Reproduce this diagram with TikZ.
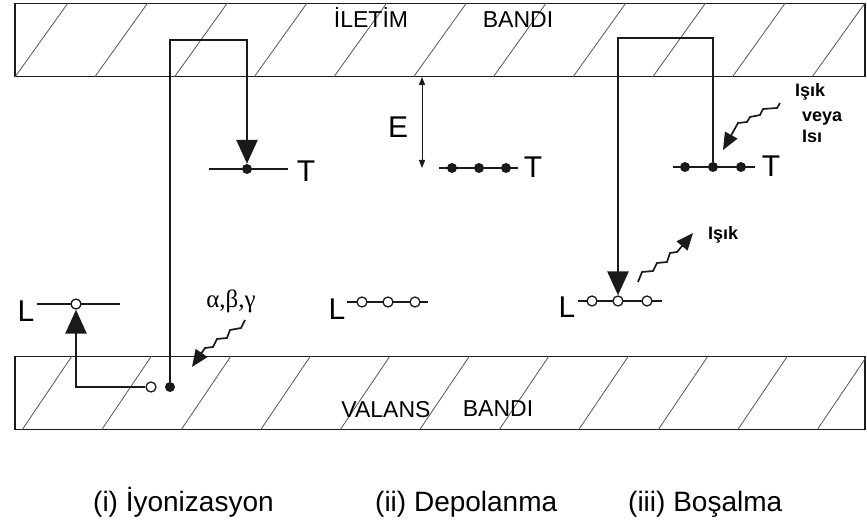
\documentclass[tikz,border=0pt]{standalone}
\usepackage{fontspec}
\setmainfont{Liberation Sans}
\newfontfamily\greekfont{Liberation Serif}
\usetikzlibrary{arrows.meta}
\definecolor{tinta}{HTML}{1A1A1A}
\definecolor{rayado}{HTML}{555555}

\tikzset{
  band/.style={draw=tinta,line width=1.5pt,minimum width=850pt,minimum height=73pt,inner sep=0pt},
  hatch/.style={rayado,line width=0.8pt},
  lvl/.style={tinta,line width=1.8pt},
  full/.style={circle,fill=tinta,inner sep=0pt,minimum size=10pt},
  empty/.style={circle,draw=tinta,fill=white,line width=1.3pt,inner sep=0pt,minimum size=10pt},
  track/.style={tinta,line width=2.6pt,-{Triangle[length=24pt,width=21pt]}},
  wave/.style={tinta,line width=1.7pt,-{Triangle[length=17pt,width=14pt]}},
  lbl/.style={font=\fontsize{30}{32}\selectfont,inner sep=0pt,anchor=base},
  bandtxt/.style={font=\fontsize{23}{26}\selectfont,inner sep=0pt,anchor=base},
  caption/.style={font=\fontsize{28}{30}\selectfont,inner sep=0pt,anchor=base west},
  note/.style={font=\bfseries\fontsize{18}{20}\selectfont,inner sep=0pt,anchor=base west}
}

\begin{document}
\begin{tikzpicture}[x=1pt,y=-1pt]
  \useasboundingbox (0,0) rectangle (867,526);

  \node[band] (cband) at (440,40) {};
  \node[band] (vband) at (440,393) {};
  \begin{scope}
    \clip (cband.south west) rectangle (cband.north east);
    \foreach \i in {0,...,10}
      \draw[hatch] (15+79.7*\i,77) -- ++(53,-74);
  \end{scope}
  \begin{scope}
    \clip (vband.south west) rectangle (vband.north east);
    \foreach \i in {0,...,10}
      \draw[hatch] (22+79.5*\i,430) -- ++(50,-74);
  \end{scope}
  \node[bandtxt] (iletim) at (371,28) {İLETİM};
  \node[bandtxt] (bandic) at (518,28) {BANDI};
  \node[bandtxt] (valans) at (386,417) {VALANS};
  \node[bandtxt] (bandiv) at (498,416) {BANDI};

  % (i)
  \draw[lvl] (209,169) -- (288,169);
  \draw[lvl] (37,304) -- (120,304);
  \node[full] (t1) at (247,169) {};
  \node[empty] (l1) at (76,304) {};
  \node[empty] (v0) at (151,387) {};
  \node[full] (vh) at (170,387) {};
  \coordinate (ltop) at (247,40);
  \draw[track] (vh) |- (ltop) -- (t1);
  \draw[track] (v0) -| (l1);
  \node[lbl] (t1lbl) at (306,182) {T};
  \node[lbl] (l1lbl) at (26,322) {L};
  \node[font=\greekfont\fontsize{25}{28}\selectfont,inner sep=0pt,anchor=base] (abg) at (231,308) {α,β,γ};
  \coordinate (w1s) at (245,320);
  \coordinate (w1e) at (192,367);
  \draw[wave] (w1s) -- ++(-4,8) -- ++(-11,2) -- ++(-3,8) -- ++(-10,1) -- ++(-4,8) -- ++(-8,1) -- (w1e);

  % (ii)
  \coordinate (etop) at (422,77);
  \coordinate (ebot) at (422,168);
  \draw[tinta,line width=1pt,{Triangle[length=8pt,width=6pt]}-{Triangle[length=8pt,width=6pt]}] (etop) -- (ebot);
  \node[lbl] (elbl) at (398,138) {E};
  \draw[lvl] (439,168) -- (518,168);
  \draw[lvl] (347,302) -- (428,302);
  \foreach \n/\x in {a/452,b/479,c/506}
    \node[full] (t2\n) at (\x,168) {};
  \foreach \n/\x in {a/362,b/388,c/415}
    \node[empty] (l2\n) at (\x,302) {};
  \node[lbl] (t2lbl) at (533,178) {T};
  \node[lbl] (l2lbl) at (337,320) {L};

  % (iii)
  \draw[lvl] (673,167) -- (755,167);
  \draw[lvl] (578,301) -- (662,301);
  \foreach \n/\x in {a/685,b/713,c/741}
    \node[full] (t3\n) at (\x,167) {};
  \foreach \n/\x in {a/592,b/618,c/647}
    \node[empty] (l3\n) at (\x,301) {};
  \coordinate (rtop) at (618,38);
  \draw[track] (t3b) |- (rtop) -- (l3b);
  \node[lbl] (t3lbl) at (771,177) {T};
  \node[lbl] (l3lbl) at (567,318) {L};
  \coordinate (w2s) at (780,103);
  \coordinate (w2e) at (723,150);
  \draw[wave] (w2s) -- ++(-3,5) -- ++(-14,1) -- ++(-3,6) -- ++(-10,2) -- ++(-3,5) -- ++(-9,1) -- (w2e);
  \node[note] (isik) at (795,97) {Işık};
  \node[note] (veya) at (802,122) {veya};
  \node[note] (isi) at (802,143) {Isı};
  \coordinate (w3s) at (638,282);
  \coordinate (w3e) at (693,233);
  \draw[wave] (w3s) -- ++(4,-10) -- ++(11,-1) -- ++(4,-8) -- ++(10,-1) -- ++(3,-9) -- ++(7,-1) -- (w3e);
  \node[note] (isik2) at (708,240) {Işık};

  \node[caption] (cap1) at (93,511) {(i) İyonizasyon};
  \node[caption] (cap2) at (375,511) {(ii) Depolanma};
  \node[caption] (cap3) at (628,511) {(iii) Boşalma};
\end{tikzpicture}
\end{document}
